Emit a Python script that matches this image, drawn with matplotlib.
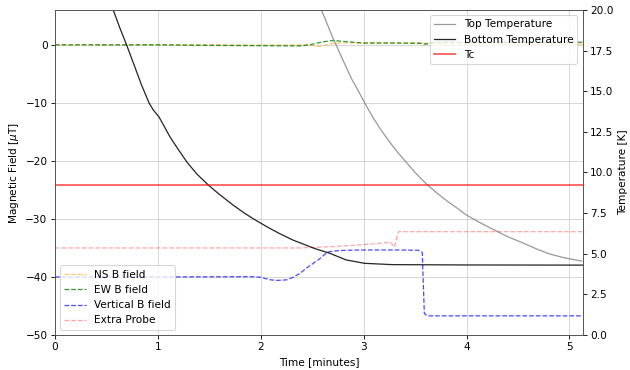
#=========================================================================
import numpy as np
import matplotlib
matplotlib.use('Agg')
import matplotlib.pyplot as plt

#=========================================================================
# magnetic field probes [uT] vs time [minutes]
ns_t = [0.0, 0.5, 1.0, 1.5, 2.0, 2.45, 2.57, 2.71, 2.9, 3.2, 3.55, 3.6, 3.65, 4.0, 4.5, 5.13]
ns_b = [0.0, 0.0, 0.0, 0.0, -0.05, 0.0, -0.3, 0.3, 0.35, 0.35, 0.35, 0.2, 0.12, 0.12, 0.12, 0.12]

ew_t = [0.0, 0.5, 1.0, 1.5, 2.0, 2.4, 2.5, 2.6, 2.7, 2.8, 2.99, 3.3, 3.57, 3.6, 3.65, 4.0, 4.5, 5.13]
ew_b = [0.0, 0.0, 0.0, -0.1, -0.15, -0.2, 0.1, 0.5, 0.74, 0.6, 0.3, 0.3, 0.25, 0.1, 0.4, 0.45, 0.45, 0.45]

vert_t = [0.0, 1.0, 1.9, 2.0, 2.08, 2.15, 2.25, 2.31, 2.38, 2.45, 2.57, 2.65, 2.73, 2.83,
          3.0, 3.3, 3.53, 3.57, 3.59, 3.62, 4.0, 5.13]
vert_b = [-40.0, -40.0, -39.95, -40.05, -40.45, -40.6, -40.5, -40.1, -39.4, -38.4, -36.9, -35.7,
          -35.5, -35.4, -35.35, -35.35, -35.4, -35.8, -46.3, -46.7, -46.7, -46.7]

extra_t = [0.0, 1.0, 2.2, 2.38, 2.6, 2.86, 3.05, 3.18, 3.26, 3.30, 3.33, 3.34, 4.0, 5.13]
extra_b = [-35.0, -35.0, -35.0, -35.0, -34.85, -34.6, -34.35, -34.15, -34.0, -34.85, -32.5, -32.2, -32.2, -32.2]

# temperatures [K]
top_t = [2.45, 2.59, 2.7, 2.8, 2.88, 2.95, 3.0, 3.08, 3.16, 3.25, 3.33, 3.41, 3.5, 3.62, 3.72,
         3.82, 3.9, 4.0, 4.12, 4.24, 4.4, 4.55, 4.68, 4.8, 4.95, 5.12]
top_temp = [22.2, 20.0, 18.3, 16.9, 15.8, 15.0, 14.4, 13.5, 12.7, 11.9, 11.25, 10.66, 10.0, 9.23, 8.7,
            8.2, 7.85, 7.38, 6.95, 6.56, 6.05, 5.66, 5.3, 5.0, 4.75, 4.55]

bot_t = [0.45, 0.566, 0.63, 0.696, 0.77, 0.84, 0.916, 0.955, 1.01, 1.117, 1.2, 1.28, 1.38, 1.49,
         1.585, 1.73, 1.83, 1.93, 2.06, 2.18, 2.31, 2.42, 2.52, 2.67, 2.83, 3.01, 3.28, 4.0, 5.13]
bot_temp = [22.0, 20.0, 18.9, 17.85, 16.6, 15.4, 14.26, 13.85, 13.43, 12.2, 11.4, 10.66, 9.9, 9.23,
            8.72, 8.0, 7.55, 7.14, 6.66, 6.25, 5.85, 5.58, 5.33, 5.03, 4.62, 4.41, 4.33, 4.31, 4.3]

tc = 9.23

#=========================================================================
#low dpi so that fonts, pads and ticks shrink together
dpi = 76
fig = plt.figure(figsize=(630.0 / dpi, 370.0 / dpi), dpi=dpi)
ax = fig.add_axes([0.0873, 0.0946, 0.8377, 0.8784])

ax.plot(ns_t, ns_b, '--', color='orange', alpha=0.6, linewidth=1.2, label='NS B field')
ax.plot(ew_t, ew_b, '--', color='green', alpha=0.8, linewidth=1.2, label='EW B field')
ax.plot(vert_t, vert_b, '--', color='blue', alpha=0.7, linewidth=1.2, label='Vertical B field')
ax.plot(extra_t, extra_b, '--', color='red', alpha=0.35, linewidth=1.2, label='Extra Probe')

ax.set_xlim(0, 5.13)
ax.set_ylim(-50, 6)
ax.set_xlabel('Time [minutes]')
ax.set_ylabel(r'Magnetic Field [$\mu$T]')
ax.grid(True, color='#d0d0d0')
ax.legend(loc='lower left')

#right axis
ax2 = ax.twinx()
ax2.plot(top_t, top_temp, color='grey', alpha=0.8, linewidth=1.2, label='Top Temperature')
ax2.plot(bot_t, bot_temp, color='black', alpha=0.85, linewidth=1.2, label='Bottom Temperature')
ax2.axhline(tc, color='red', alpha=0.6, linewidth=1.8, label='Tc')
ax2.set_ylim(0, 20)
ax2.set_ylabel('Temperature [K]')
ax2.legend(loc='upper right')

for a in (ax, ax2):
  for s in a.spines.values():
    s.set_color('#555555')

fig.savefig('out.png', dpi=dpi)
